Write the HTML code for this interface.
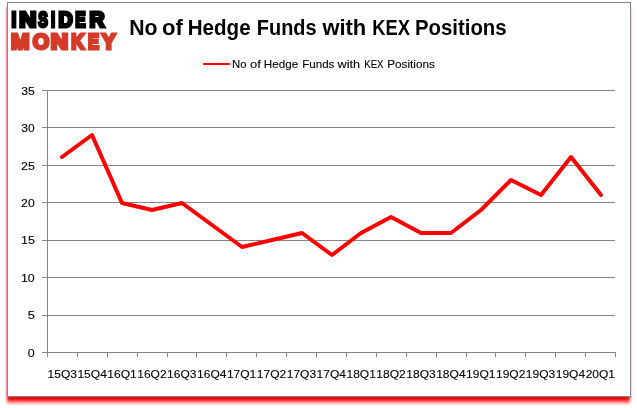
<!DOCTYPE html>
<html lang="en">
<head>
<meta charset="utf-8">
<title>No of Hedge Funds with KEX Positions</title>
<style>
  html, body { margin: 0; padding: 0; background: #ffffff; }
  body { width: 637px; height: 408px; overflow: hidden; position: relative; font-family: "Liberation Sans", sans-serif; }
  svg { position: absolute; left: 0; top: 0; }
  text { font-family: "Liberation Sans", sans-serif; }
</style>
</head>
<body>
<svg width="637" height="408" viewBox="0 0 637 408">
  <defs>
    <filter id="sh" filterUnits="userSpaceOnUse" x="0" y="0" width="637" height="408">
      <feGaussianBlur stdDeviation="1.7 2"/>
    </filter>
  </defs>
  <!-- frame with red drop shadow -->
  <rect x="7" y="7" width="623" height="395" fill="#ff0000" filter="url(#sh)"/>
  <rect x="7.5" y="2.5" width="623" height="394" fill="#ffffff" stroke="#868686" stroke-width="1" shape-rendering="crispEdges"/>
  <!-- logo -->
  <g font-weight="bold" stroke-linejoin="miter">
    <text y="26.75" font-size="21.3" fill="#000000" stroke="#000000" stroke-width="3"><tspan x="11.42" textLength="4.80" lengthAdjust="spacingAndGlyphs">I</tspan><tspan x="19.22" textLength="17.15" lengthAdjust="spacingAndGlyphs">N</tspan><tspan x="38.27" textLength="9.60" lengthAdjust="spacingAndGlyphs">S</tspan><tspan x="50.88" textLength="4.09" lengthAdjust="spacingAndGlyphs">I</tspan><tspan x="58.57" textLength="14.21" lengthAdjust="spacingAndGlyphs">D</tspan><tspan x="75.33" textLength="10.38" lengthAdjust="spacingAndGlyphs">E</tspan><tspan x="89.59" textLength="15.11" lengthAdjust="spacingAndGlyphs">R</tspan></text>
    <text y="48.90" font-size="21.3" fill="#d43a28" stroke="#d43a28" stroke-width="3"><tspan x="10.92" textLength="18.43" lengthAdjust="spacingAndGlyphs">M</tspan><tspan x="32.64" textLength="16.45" lengthAdjust="spacingAndGlyphs">O</tspan><tspan x="50.89" textLength="17.39" lengthAdjust="spacingAndGlyphs">N</tspan><tspan x="71.36" textLength="13.21" lengthAdjust="spacingAndGlyphs">K</tspan><tspan x="87.96" textLength="11.08" lengthAdjust="spacingAndGlyphs">E</tspan><tspan x="101.68" textLength="13.85" lengthAdjust="spacingAndGlyphs">Y</tspan></text>
  </g>
  <!-- chart title -->
  <text font-size="21.5" font-weight="bold" fill="#000000"><tspan x="129.32" y="34.9" textLength="28.27" lengthAdjust="spacingAndGlyphs">No</tspan> <tspan x="162.01" y="34.9" textLength="20.85" lengthAdjust="spacingAndGlyphs">of</tspan> <tspan x="187.76" y="34.9" textLength="62.85" lengthAdjust="spacingAndGlyphs">Hedge</tspan> <tspan x="256.85" y="34.9" textLength="59.75" lengthAdjust="spacingAndGlyphs">Funds</tspan> <tspan x="322.44" y="34.9" textLength="43.82" lengthAdjust="spacingAndGlyphs">with</tspan> <tspan x="372.26" y="34.9" textLength="37.66" lengthAdjust="spacingAndGlyphs">KEX</tspan> <tspan x="415.03" y="34.9" textLength="91.60" lengthAdjust="spacingAndGlyphs">Positions</tspan></text>
  <!-- legend -->
  <line x1="204" y1="64" x2="229" y2="64" stroke="#ff0000" stroke-width="2.2" stroke-linecap="round"/>
  <text font-size="11" fill="#000000" stroke="#000000" stroke-width="0.1"><tspan x="232.12" y="67.8" textLength="14.44" lengthAdjust="spacingAndGlyphs">No</tspan> <tspan x="250.09" y="67.8" textLength="10.86" lengthAdjust="spacingAndGlyphs">of</tspan> <tspan x="263.89" y="67.8" textLength="34.28" lengthAdjust="spacingAndGlyphs">Hedge</tspan> <tspan x="302.30" y="67.8" textLength="32.06" lengthAdjust="spacingAndGlyphs">Funds</tspan> <tspan x="337.50" y="67.8" textLength="22.51" lengthAdjust="spacingAndGlyphs">with</tspan> <tspan x="364.25" y="67.8" textLength="19.15" lengthAdjust="spacingAndGlyphs">KEX</tspan> <tspan x="387.18" y="67.8" textLength="47.79" lengthAdjust="spacingAndGlyphs">Positions</tspan></text>
  <!-- gridlines and axes -->
  <g stroke="#868686" stroke-width="1" shape-rendering="crispEdges" fill="none">
    <path d="M42 315.1H615"/>
    <path d="M42 277.6H615"/>
    <path d="M42 240.2H615"/>
    <path d="M42 202.8H615"/>
    <path d="M42 165.4H615"/>
    <path d="M42 127.9H615"/>
    <path d="M42 90.5H615"/>
    <path d="M42 352.5H616"/>
    <path d="M47.5 90V357"/>
    <path d="M77.5 352V357M107.5 352V357M137.5 352V357M167.5 352V357M196.5 352V357M226.5 352V357M256.5 352V357M286.5 352V357M316.5 352V357M346.5 352V357M376.5 352V357M406.5 352V357M436.5 352V357M466.5 352V357M495.5 352V357M525.5 352V357M555.5 352V357M585.5 352V357M615.5 352V357"/>
  </g>
  <!-- value axis labels -->
  <g font-size="11" fill="#000000" stroke="#000000" stroke-width="0.1">
    <text><tspan x="21.32" y="94.7" textLength="13.58" lengthAdjust="spacingAndGlyphs">35</tspan></text>
    <text><tspan x="21.32" y="132.1" textLength="13.38" lengthAdjust="spacingAndGlyphs">30</tspan></text>
    <text><tspan x="21.12" y="169.6" textLength="13.78" lengthAdjust="spacingAndGlyphs">25</tspan></text>
    <text><tspan x="21.13" y="207.0" textLength="13.58" lengthAdjust="spacingAndGlyphs">20</tspan></text>
    <text><tspan x="20.91" y="244.4" textLength="14.00" lengthAdjust="spacingAndGlyphs">15</tspan></text>
    <text><tspan x="20.93" y="281.8" textLength="13.78" lengthAdjust="spacingAndGlyphs">10</tspan></text>
    <text><tspan x="27.75" y="319.3" textLength="7.18" lengthAdjust="spacingAndGlyphs">5</tspan></text>
    <text><tspan x="27.76" y="356.7" textLength="6.95" lengthAdjust="spacingAndGlyphs">0</tspan></text>
  </g>
  <!-- category axis labels -->
  <g font-size="11" fill="#000000" stroke="#000000" stroke-width="0.1">
    <text x="47.55" y="377.8" textLength="29.4" lengthAdjust="spacingAndGlyphs">15Q3</text>
    <text x="77.44" y="377.8" textLength="29.4" lengthAdjust="spacingAndGlyphs">15Q4</text>
    <text x="107.34" y="377.8" textLength="29.4" lengthAdjust="spacingAndGlyphs">16Q1</text>
    <text x="137.23" y="377.8" textLength="29.4" lengthAdjust="spacingAndGlyphs">16Q2</text>
    <text x="167.13" y="377.8" textLength="29.4" lengthAdjust="spacingAndGlyphs">16Q3</text>
    <text x="197.02" y="377.8" textLength="29.4" lengthAdjust="spacingAndGlyphs">16Q4</text>
    <text x="226.92" y="377.8" textLength="29.4" lengthAdjust="spacingAndGlyphs">17Q1</text>
    <text x="256.81" y="377.8" textLength="29.4" lengthAdjust="spacingAndGlyphs">17Q2</text>
    <text x="286.71" y="377.8" textLength="29.4" lengthAdjust="spacingAndGlyphs">17Q3</text>
    <text x="316.60" y="377.8" textLength="29.4" lengthAdjust="spacingAndGlyphs">17Q4</text>
    <text x="346.49" y="377.8" textLength="29.4" lengthAdjust="spacingAndGlyphs">18Q1</text>
    <text x="376.39" y="377.8" textLength="29.4" lengthAdjust="spacingAndGlyphs">18Q2</text>
    <text x="406.28" y="377.8" textLength="29.4" lengthAdjust="spacingAndGlyphs">18Q3</text>
    <text x="436.18" y="377.8" textLength="29.4" lengthAdjust="spacingAndGlyphs">18Q4</text>
    <text x="466.07" y="377.8" textLength="29.4" lengthAdjust="spacingAndGlyphs">19Q1</text>
    <text x="495.97" y="377.8" textLength="29.4" lengthAdjust="spacingAndGlyphs">19Q2</text>
    <text x="525.86" y="377.8" textLength="29.4" lengthAdjust="spacingAndGlyphs">19Q3</text>
    <text x="555.76" y="377.8" textLength="29.4" lengthAdjust="spacingAndGlyphs">19Q4</text>
    <text x="585.65" y="377.8" textLength="29.4" lengthAdjust="spacingAndGlyphs">20Q1</text>
  </g>
  <!-- data series -->
  <polyline fill="none" stroke="#ff0000" stroke-width="4" stroke-linecap="round" stroke-linejoin="round"
    points="62,157 92,135 122,203 152,210 182,203 212,225 242,247 272,240 302,233 332,255 361,233 391,217 421,233 451,233 481,210 511,180 541,195 571,157 601,195"/>
</svg>
</body>
</html>
